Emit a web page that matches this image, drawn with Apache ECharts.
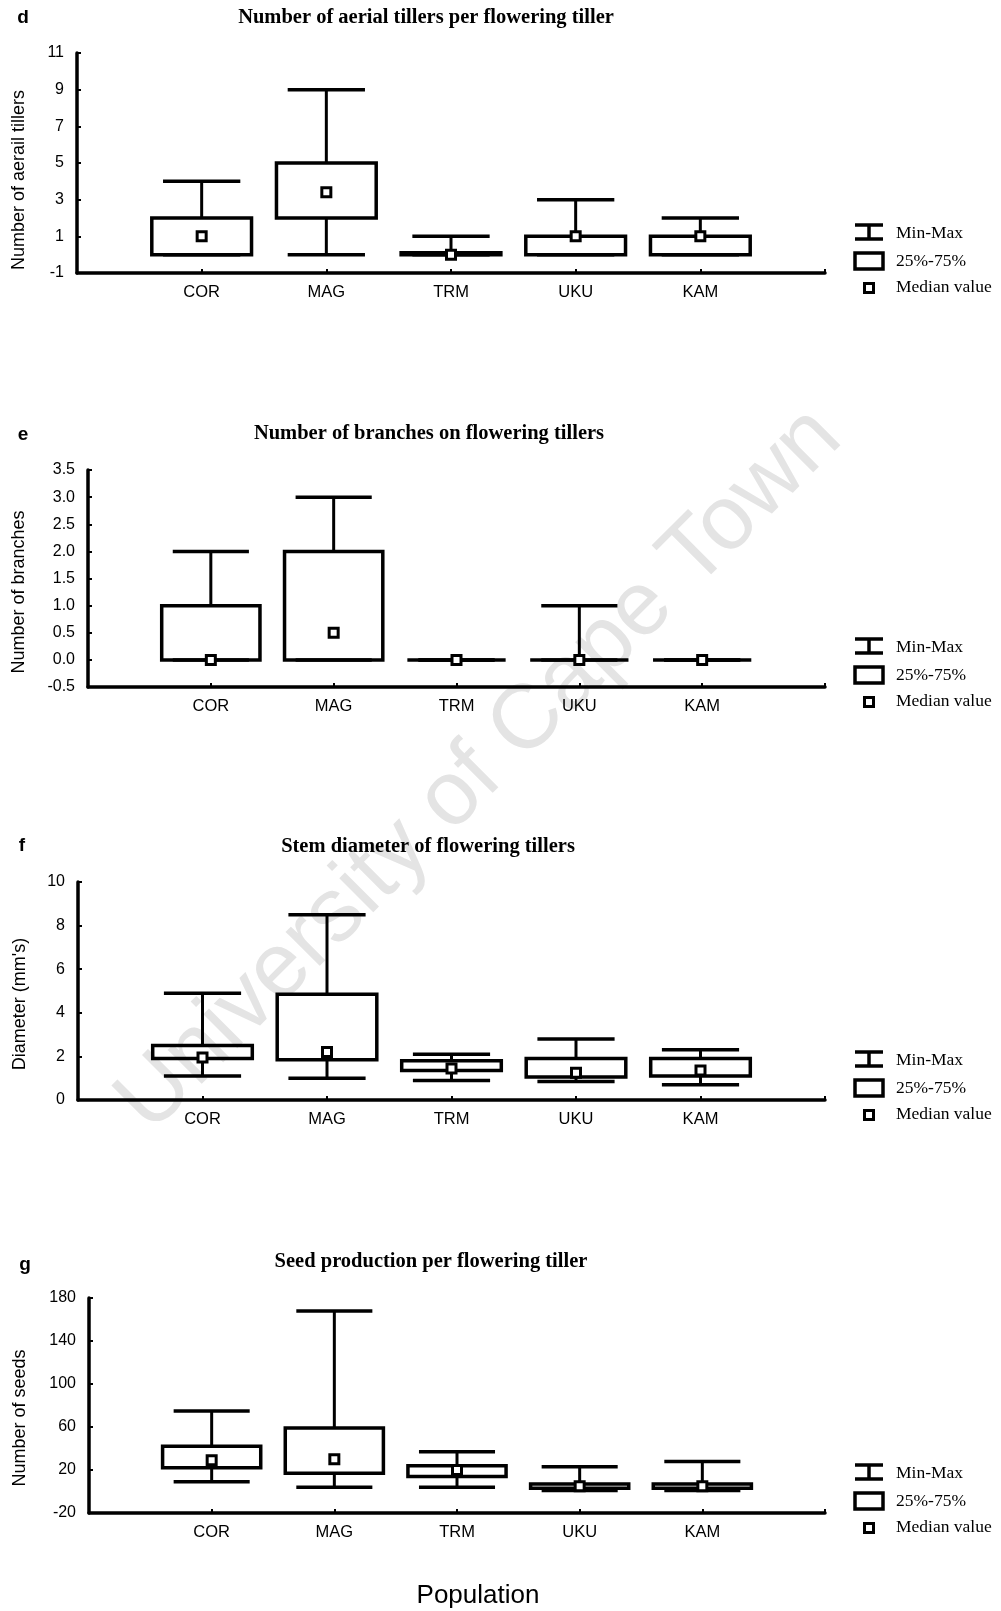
<!DOCTYPE html>
<html><head><meta charset="utf-8">
<script src="https://cdn.jsdelivr.net/npm/echarts@6/dist/echarts.min.js"></script>
<style>html,body{margin:0;padding:0;background:#fff}#chart{width:1001px;height:1611px}</style>
</head><body><div id="chart"></div>
<script>
// ---------- DATA ----------
const populations = ['COR', 'MAG', 'TRM', 'UKU', 'KAM'];

// d: Number of aerial tillers per flowering tiller
const tillersMin    = [0, 0, 0, 0, 0];
const tillersQ1     = [0, 2, 0, 0, 0];
const tillersMedian = [1, 3.4, 0, 1, 1];
const tillersQ3     = [2, 5, 0.1, 1, 1];
const tillersMax    = [4, 9, 1, 3, 2];
const tillersTicks  = [-1, 1, 3, 5, 7, 9, 11];

// e: Number of branches on flowering tillers
const branchesMin    = [0, 0, 0, 0, 0];
const branchesQ1     = [0, 0, 0, 0, 0];
const branchesMedian = [0, 0.5, 0, 0, 0];
const branchesQ3     = [1, 2, 0, 0, 0];
const branchesMax    = [2, 3, 0, 1, 0];
const branchesTicks  = [-0.5, 0, 0.5, 1, 1.5, 2, 2.5, 3, 3.5];

// f: Stem diameter of flowering tillers
const diameterMin    = [1.1, 1.0, 0.9, 0.85, 0.7];
const diameterQ1     = [1.9, 1.85, 1.35, 1.05, 1.1];
const diameterMedian = [1.95, 2.2, 1.45, 1.25, 1.35];
const diameterQ3     = [2.5, 4.85, 1.8, 1.9, 1.9];
const diameterMax    = [4.9, 8.5, 2.1, 2.8, 2.3];
const diameterTicks  = [0, 2, 4, 6, 8, 10];

// g: Seed production per flowering tiller
const seedsMin    = [9, 4, 4, 1, 1];
const seedsQ1     = [22, 17, 14, 3, 3];
const seedsMedian = [29, 30, 20, 5, 5];
const seedsQ3     = [42, 59, 24, 7, 7];
const seedsMax    = [75, 168, 37, 23, 28];
const seedsTicks  = [-20, 20, 60, 100, 140, 180];

const panelLetters = ['d', 'e', 'f', 'g'];
const panelTitles = [
  'Number of aerial tillers per flowering tiller',
  'Number of branches on flowering tillers',
  'Stem diameter of flowering tillers',
  'Seed production per flowering tiller'
];
const yAxisNames = ['Number of aerail tillers', 'Number of branches', "Diameter (mm's)", 'Number of seeds'];
const legendLabels = ['Min-Max', '25%-75%', 'Median value'];
const xAxisTitle = 'Population';
const watermarkText = 'University of Cape Town';

const panelStats = [
  [tillersMin, tillersQ1, tillersMedian, tillersQ3, tillersMax],
  [branchesMin, branchesQ1, branchesMedian, branchesQ3, branchesMax],
  [diameterMin, diameterQ1, diameterMedian, diameterQ3, diameterMax],
  [seedsMin, seedsQ1, seedsMedian, seedsQ3, seedsMax]
];
const panelTicks = [tillersTicks, branchesTicks, diameterTicks, seedsTicks];
const tickDecimals = [0, 1, 0, 0];

// ---------- LAYOUT ----------
const layouts = [
  { left: 77, top: 53,   height: 220, axisRight: 825, letter: [23, 18],   title: [426, 18],   yName: [19, 180] },
  { left: 88, top: 470,  height: 217, axisRight: 825, letter: [23, 435],  title: [429, 434],  yName: [19, 592] },
  { left: 78, top: 882,  height: 218, axisRight: 825, letter: [22, 846],  title: [428, 847],  yName: [20, 1004] },
  { left: 89, top: 1298, height: 215, axisRight: 825, letter: [25, 1265], title: [431, 1262], yName: [20, 1418] }
];
const W = 1001, H = 1611;
const BOX_W = 0.8, CAP_W = 0.62;
const LW = 3.5;

function renderItem(params, api) {
  const x = api.value(0);
  const pMin = api.coord([x, api.value(1)]);
  const pQ1 = api.coord([x, api.value(2)]);
  const pMed = api.coord([x, api.value(3)]);
  const pQ3 = api.coord([x, api.value(4)]);
  const pMax = api.coord([x, api.value(5)]);
  const bw = api.size([BOX_W, 0])[0];
  const cw = api.size([CAP_W, 0])[0];
  const cx = pMed[0];
  const ls = { stroke: '#000', lineWidth: LW, fill: null };
  return {
    type: 'group',
    children: [
      { type: 'line', shape: { x1: cx, y1: pQ3[1], x2: cx, y2: pMax[1] }, style: { stroke: '#000', lineWidth: 3, fill: null } },
      { type: 'line', shape: { x1: cx, y1: pQ1[1], x2: cx, y2: pMin[1] }, style: { stroke: '#000', lineWidth: 3, fill: null } },
      { type: 'line', shape: { x1: cx - cw / 2, y1: pMax[1], x2: cx + cw / 2, y2: pMax[1] }, style: ls },
      { type: 'line', shape: { x1: cx - cw / 2, y1: pMin[1], x2: cx + cw / 2, y2: pMin[1] }, style: ls },
      { type: 'rect', shape: { x: cx - bw / 2, y: pQ3[1], width: bw, height: pQ1[1] - pQ3[1] }, style: { stroke: '#000', lineWidth: LW, fill: 'rgba(0,0,0,0)' } },
      { type: 'rect', shape: { x: cx - 4.5, y: pMed[1] - 4.5, width: 9, height: 9 }, style: { stroke: '#000', lineWidth: 3, fill: '#fff' }, z2: 10 }
    ]
  };
}

const grid = [], xAxis = [], yAxis = [], series = [], graphics = [];

function txt(text, x, y, font, align, vAlign, extra, fill) {
  return Object.assign({
    type: 'text', x: x, y: y,
    style: { text: text, font: font, fill: fill || '#000', textAlign: align, align: align, textVerticalAlign: vAlign, verticalAlign: vAlign }
  }, extra || {});
}

graphics.push(txt(watermarkText, 480, 770, '91px "Liberation Sans"', 'center', 'middle',
  { rotation: Math.PI / 4, z: -10 }, '#e4e4e4'));

layouts.forEach((L, i) => {
  const ticks = panelTicks[i];
  const stats = panelStats[i];
  grid.push({ left: L.left, top: L.top, width: L.axisRight - L.left, height: L.height, containLabel: false });
  xAxis.push({
    type: 'value', gridIndex: i, min: 0, max: populations.length + 1,
    axisLine: { show: true, onZero: false, lineStyle: { color: '#000', width: LW } },
    axisTick: { show: true, inside: true, length: 4, lineStyle: { color: '#000', width: 2 }, customValues: populations.map((p, k) => k + 1).concat([populations.length + 1]) },
    axisLabel: { show: true, customValues: populations.map((p, k) => k + 1), formatter: v => populations[Math.round(v) - 1] || '', color: '#000', fontFamily: 'Liberation Sans', fontSize: 16.5, margin: 11 },
    splitLine: { show: false }
  });
  yAxis.push({
    type: 'value', gridIndex: i, min: ticks[0], max: ticks[ticks.length - 1],
    axisLine: { show: true, onZero: false, lineStyle: { color: '#000', width: LW } },
    axisTick: { show: true, inside: true, length: 4, lineStyle: { color: '#000', width: 2 }, customValues: ticks },
    axisLabel: { show: true, customValues: ticks, formatter: v => Number(v).toFixed(tickDecimals[i]), color: '#000', fontFamily: 'Liberation Sans', fontSize: 16, margin: 13 },
    splitLine: { show: false }
  });
  series.push({
    type: 'custom', xAxisIndex: i, yAxisIndex: i,
    renderItem: renderItem,
    data: populations.map((p, k) => [k + 1, stats[0][k], stats[1][k], stats[2][k], stats[3][k], stats[4][k]]),
    encode: { x: 0, y: [1, 2, 3, 4, 5] },
    clip: false, silent: true
  });

  graphics.push(txt(panelLetters[i], L.letter[0], L.letter[1], 'bold 19px "Liberation Sans"', 'center', 'middle'));
  graphics.push(txt(panelTitles[i], L.title[0], L.title[1], 'bold 20.5px "Liberation Serif"', 'center', 'middle'));
  graphics.push(txt(yAxisNames[i], L.yName[0], L.yName[1], '18px "Liberation Sans"', 'center', 'middle', { rotation: Math.PI / 2 }));

  // legend
  const ay = L.top + L.height;
  const lx = 855, lw = 28, tx = 896;
  const st = { stroke: '#000', lineWidth: 3.5, fill: null };
  graphics.push({ type: 'line', shape: { x1: lx, y1: ay - 48, x2: lx + lw, y2: ay - 48 }, style: st });
  graphics.push({ type: 'line', shape: { x1: lx, y1: ay - 34, x2: lx + lw, y2: ay - 34 }, style: st });
  graphics.push({ type: 'line', shape: { x1: lx + lw / 2, y1: ay - 48, x2: lx + lw / 2, y2: ay - 34 }, style: st });
  graphics.push({ type: 'rect', shape: { x: lx, y: ay - 20, width: lw, height: 16 }, style: { stroke: '#000', lineWidth: 3.5, fill: '#fff' } });
  graphics.push({ type: 'rect', shape: { x: lx + lw / 2 - 4.5, y: ay + 10.5, width: 9, height: 9 }, style: { stroke: '#000', lineWidth: 3, fill: '#fff' } });
  graphics.push(txt(legendLabels[0], tx, ay - 40, '17.5px "Liberation Serif"', 'left', 'middle'));
  graphics.push(txt(legendLabels[1], tx, ay - 12, '17.5px "Liberation Serif"', 'left', 'middle'));
  graphics.push(txt(legendLabels[2], tx, ay + 14, '17.5px "Liberation Serif"', 'left', 'middle'));
});

graphics.push(txt(xAxisTitle, 478, 1596, '26px "Liberation Sans"', 'center', 'middle'));

const chart = echarts.init(document.getElementById('chart'), null, { renderer: 'canvas', width: W, height: H });
chart.setOption({
  backgroundColor: '#fff',
  animation: false,
  grid: grid,
  xAxis: xAxis,
  yAxis: yAxis,
  series: series,
  graphic: { elements: graphics }
});
</script></body></html>
